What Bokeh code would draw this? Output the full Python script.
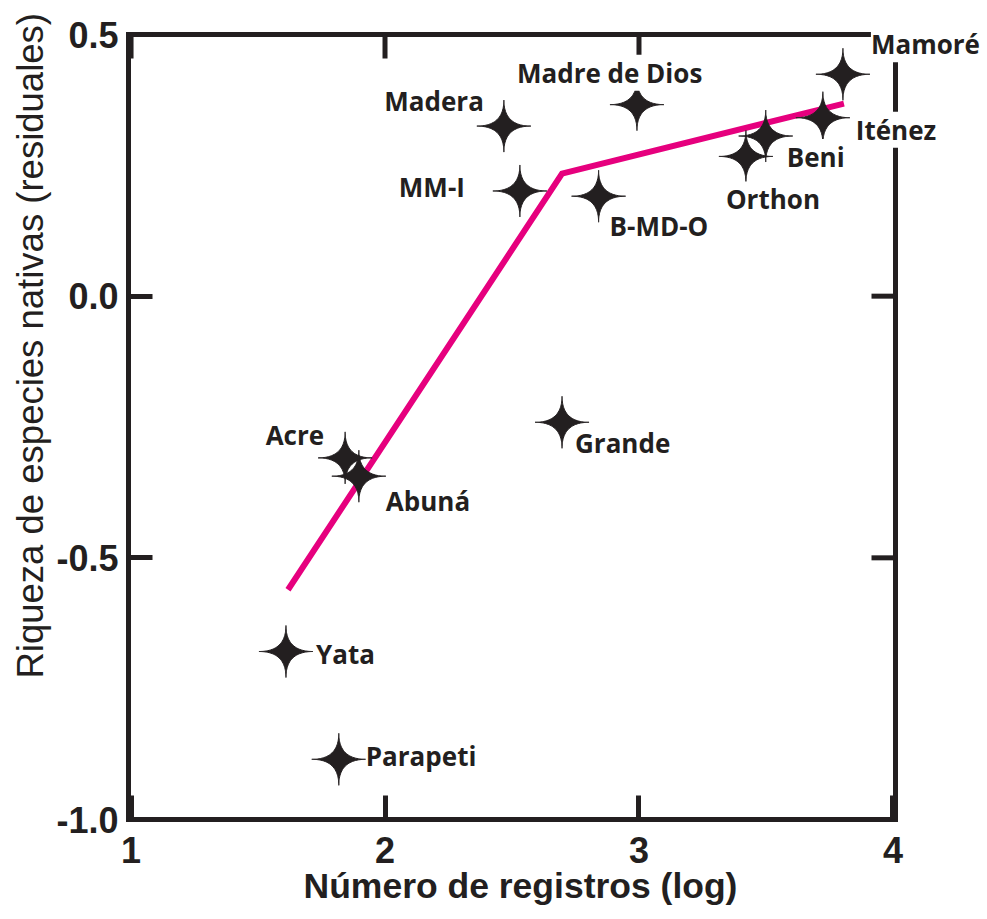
import numpy as np
from bokeh.plotting import figure
from bokeh.models import ColumnDataSource, LabelSet, Title, Range1d, LinearAxis, FixedTicker
from bokeh.core.properties import value
from bokeh.embed import file_html
from bokeh.resources import INLINE

# ---------------- data ----------------
rivers = ["Mamoré", "Iténez", "Beni", "Orthon", "Madre de Dios", "Madera", "MM-I",
          "B-MD-O", "Acre", "Abuná", "Grande", "Yata", "Parapeti"]
log_registros = [3.803, 3.724, 3.499, 3.421, 2.992, 2.468, 2.531,
                 2.841, 1.843, 1.897, 2.697, 1.610, 1.818]
residuales = [0.424, 0.341, 0.306, 0.267, 0.366, 0.325, 0.201,
              0.191, -0.309, -0.344, -0.241, -0.679, -0.885]

fit_x = [1.618, 2.697, 3.807]
fit_y = [-0.561, 0.234, 0.368]

x_ticks = [1, 2, 3, 4]
y_ticks = [-1.0, -0.5, 0.0, 0.5]
x_label_ticks = {1: "1", 2: "2", 3: "3", 4: "4"}
y_label_ticks = {-1.0: "-1.0", -0.5: "-0.5", 0.0: "0.0", 0.5: "0.5"}

# ---------------- layout / style ----------------
X0, X1 = 0.99, 4.01          # data box (spines)
Y0, Y1 = -1.0, 0.5
BOX_W, BOX_H = 767, 785      # data box size in px
W, H = 980, 918
BL = 128                     # frame left (= left spine)
BOX_TOP = 34                 # canvas y of the top spine
BB = H - (BOX_TOP + BOX_H)   # frame bottom = bottom spine
PX_X = BOX_W / (X1 - X0)
PX_Y = BOX_H / (Y1 - Y0)
XR_END = X0 + (W - BL) / PX_X
YR_END = Y1 + BOX_TOP / PX_Y

INK = "#231F20"
PINK = "#E6007E"
TICK = 24

# label offsets in pixels (dx right, dy up) and alignment
lab_dx = [28, 33, 21, -20, -120, -20, -55, 11, -21, 27, 13, 30, 27]
lab_dy = [30, -12, -21, -43, 32, 25, 4, -30, 23, -25, -21, -2, 3]
lab_align = ["left", "left", "left", "left", "left", "right", "right",
             "left", "right", "left", "left", "left", "left"]

p = figure(width=W, height=H, output_backend="svg", toolbar_location=None,
           x_range=Range1d(X0, XR_END), y_range=Range1d(Y0, YR_END),
           min_border_left=BL, min_border_right=0, min_border_top=0, min_border_bottom=BB,
           x_axis_location=None, y_axis_location=None)
p.grid.visible = False
p.outline_line_color = None
p.background_fill_color = "white"
p.border_fill_color = "white"

def style_axis(ax, ticks, bounds):
    ax.ticker = FixedTicker(ticks=ticks)
    ax.bounds = bounds
    ax.axis_line_width = 5
    ax.axis_line_color = INK
    ax.axis_line_cap = "square"
    ax.major_tick_line_width = 5
    ax.major_tick_line_color = INK
    ax.major_tick_in = TICK
    ax.major_tick_out = 0
    ax.minor_tick_line_color = None
    ax.major_label_text_font = "Liberation Sans"
    ax.major_label_text_font_style = "bold"
    ax.major_label_text_font_size = "36px"
    ax.major_label_text_color = INK

xb = LinearAxis(); style_axis(xb, x_ticks, (X0, X1))
xb.major_label_overrides = x_label_ticks
xb.major_label_standoff = 17
yl = LinearAxis(); style_axis(yl, y_ticks, (Y0, Y1))
yl.major_label_overrides = y_label_ticks
yl.major_label_standoff = 10
p.add_layout(xb, "below")
p.add_layout(yl, "left")

# axis titles
p.add_layout(Title(text="Número de registros (log)", align="left", offset=175,
                   vertical_align="top", standoff=0,
                   text_font="Liberation Sans", text_font_size="35.5px",
                   text_font_style="bold", text_color=INK), "below")
p.add_layout(Title(text="Riqueza de especies nativas (residuales)", align="left", offset=141,
                   text_font="Liberation Sans", text_font_size="36.5px",
                   text_font_style="normal", text_color=INK, standoff=6), "left")

# top and right spines with inner ticks
p.segment(x0=[X0, X1], y0=[Y1, Y0], x1=[X1, X1], y1=[Y1, Y1],
          line_color=INK, line_width=5, line_cap="square")
p.segment(x0=x_ticks, y0=[Y1] * len(x_ticks), x1=x_ticks,
          y1=[Y1 - TICK / PX_Y] * len(x_ticks), line_color=INK, line_width=5)
p.segment(x0=[X1] * len(y_ticks), y0=y_ticks, x1=[X1 - TICK / PX_X] * len(y_ticks),
          y1=y_ticks, line_color=INK, line_width=5)

# fitted segmented line
p.line(fit_x, fit_y, line_color=PINK, line_width=6, line_cap="butt", line_join="miter")

# four-pointed stars drawn as patches from the data
t = np.linspace(0, 2 * np.pi, 145)
ux = np.sign(np.cos(t)) * np.abs(np.cos(t)) ** 4
uy = np.sign(np.sin(t)) * np.abs(np.sin(t)) ** 4
RX, RY = 27, 26
xs = [list(xv + ux * RX / PX_X) for xv in log_registros]
ys = [list(yv + uy * RY / PX_Y) for yv in residuales]
p.patches(xs, ys, fill_color=INK, line_color=INK, line_width=1)

src = ColumnDataSource(dict(x=log_registros, y=residuales, name=rivers,
                            dx=lab_dx, dy=lab_dy, align=lab_align))
p.add_layout(LabelSet(x="x", y="y", text="name", source=src, x_offset="dx", y_offset="dy",
                      text_align="align", text_baseline="middle",
                      text_font=value("Open Sans"), text_font_style="bold",
                      text_font_size="26px", text_color=INK,
                      background_fill_color="white"))

open("out.html", "w").write(file_html(p, INLINE))
